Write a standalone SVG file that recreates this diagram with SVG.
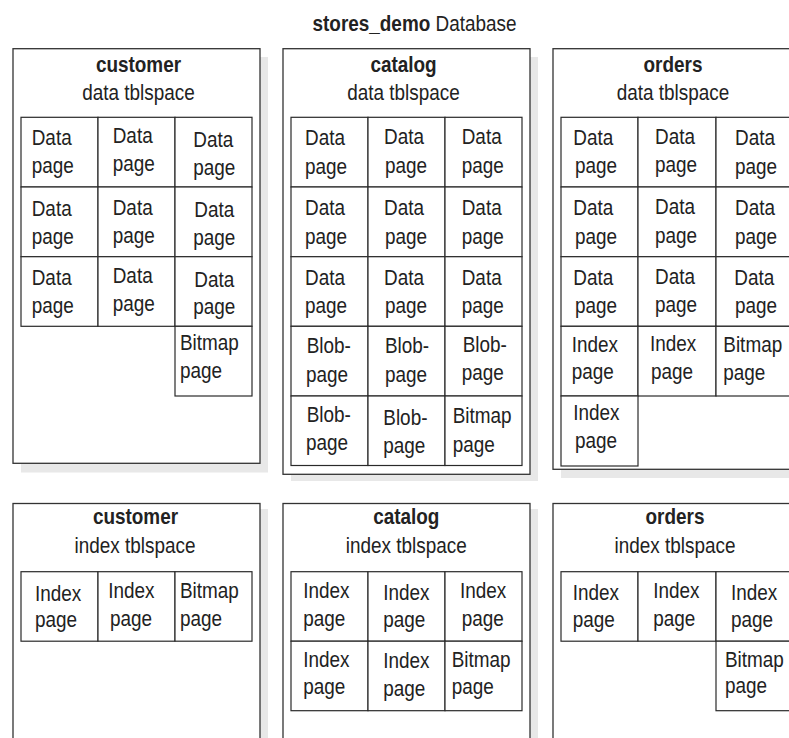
<svg xmlns="http://www.w3.org/2000/svg" width="789" height="738" viewBox="0 0 789 738">
<style>
.bg{fill:#ffffff}
.shadow{fill:#e8e8e8}
.box{fill:#ffffff;stroke:#333333;stroke-width:1.3}
.cell{fill:#ffffff;stroke:#2a2a2a;stroke-width:1.2}
text{font-family:"Liberation Sans",Arial,Helvetica,sans-serif;font-size:21.5px;fill:#222222}
.b{font-weight:bold}
.c{text-anchor:middle}
</style>
<rect class="bg" x="0" y="0" width="789" height="738"/>
<text id="title" transform="translate(312.5,31) scale(0.88,1)"><tspan class="b">stores_demo</tspan> Database</text>

<g id="customer-data">
<rect class="shadow" x="21" y="57" width="247" height="415.5"/>
<rect class="box" x="13" y="48.7" width="247" height="414.6"/>
<text class="b c" transform="translate(138.5,71.7) scale(0.88,1)">customer</text>
<text class="c" transform="translate(138.5,100) scale(0.88,1)">data tblspace</text>
<g id="customer-data-pages">
<rect class="cell" x="21" y="117.3" width="77" height="69.7"/>
<rect class="cell" x="98" y="117.3" width="77" height="69.7"/>
<rect class="cell" x="175" y="117.3" width="77" height="69.7"/>
<rect class="cell" x="21" y="187" width="77" height="69.7"/>
<rect class="cell" x="98" y="187" width="77" height="69.7"/>
<rect class="cell" x="175" y="187" width="77" height="69.7"/>
<rect class="cell" x="21" y="256.7" width="77" height="69.6"/>
<rect class="cell" x="98" y="256.7" width="77" height="69.6"/>
<rect class="cell" x="175" y="256.7" width="77" height="69.6"/>
<rect class="cell" x="175" y="326.3" width="77" height="69.7"/>
<text transform="translate(31.7,145) scale(0.88,1)">Data</text><text transform="translate(31.7,173) scale(0.88,1)">page</text>
<text transform="translate(112.7,143.3) scale(0.88,1)">Data</text><text transform="translate(112.7,171.3) scale(0.88,1)">page</text>
<text transform="translate(193.3,146.7) scale(0.88,1)">Data</text><text transform="translate(193.3,174.5) scale(0.88,1)">page</text>
<text transform="translate(31.7,216) scale(0.88,1)">Data</text><text transform="translate(31.7,244) scale(0.88,1)">page</text>
<text transform="translate(112.7,214.5) scale(0.88,1)">Data</text><text transform="translate(112.7,242.5) scale(0.88,1)">page</text>
<text transform="translate(194.3,216.7) scale(0.88,1)">Data</text><text transform="translate(193.3,244.7) scale(0.88,1)">page</text>
<text transform="translate(31.7,285) scale(0.88,1)">Data</text><text transform="translate(31.7,313) scale(0.88,1)">page</text>
<text transform="translate(112.7,283) scale(0.88,1)">Data</text><text transform="translate(112.7,311) scale(0.88,1)">page</text>
<text transform="translate(194.3,286.7) scale(0.88,1)">Data</text><text transform="translate(193.3,314) scale(0.88,1)">page</text>
<text transform="translate(180,350) scale(0.88,1)">Bitmap</text><text transform="translate(180,378.3) scale(0.88,1)">page</text>
</g>
</g>

<g id="catalog-data">
<rect class="shadow" x="291" y="57" width="247" height="424"/>
<rect class="box" x="283" y="48.7" width="247" height="425.6"/>
<text class="b c" transform="translate(403.5,71.7) scale(0.88,1)">catalog</text>
<text class="c" transform="translate(403.5,100) scale(0.88,1)">data tblspace</text>
<g id="catalog-data-pages">
<rect class="cell" x="291" y="117.3" width="77" height="69.7"/>
<rect class="cell" x="368" y="117.3" width="77" height="69.7"/>
<rect class="cell" x="445" y="117.3" width="77" height="69.7"/>
<rect class="cell" x="291" y="187" width="77" height="69.7"/>
<rect class="cell" x="368" y="187" width="77" height="69.7"/>
<rect class="cell" x="445" y="187" width="77" height="69.7"/>
<rect class="cell" x="291" y="256.7" width="77" height="69.6"/>
<rect class="cell" x="368" y="256.7" width="77" height="69.6"/>
<rect class="cell" x="445" y="256.7" width="77" height="69.6"/>
<rect class="cell" x="291" y="326.3" width="77" height="69.7"/>
<rect class="cell" x="368" y="326.3" width="77" height="69.7"/>
<rect class="cell" x="445" y="326.3" width="77" height="69.7"/>
<rect class="cell" x="291" y="396" width="77" height="69.5"/>
<rect class="cell" x="368" y="396" width="77" height="69.5"/>
<rect class="cell" x="445" y="396" width="77" height="69.5"/>
<text transform="translate(305,145) scale(0.88,1)">Data</text><text transform="translate(305,173.5) scale(0.88,1)">page</text>
<text transform="translate(384,144.3) scale(0.88,1)">Data</text><text transform="translate(385,173) scale(0.88,1)">page</text>
<text transform="translate(461.7,144.3) scale(0.88,1)">Data</text><text transform="translate(461.7,173) scale(0.88,1)">page</text>
<text transform="translate(305,215) scale(0.88,1)">Data</text><text transform="translate(305,243.5) scale(0.88,1)">page</text>
<text transform="translate(384,215) scale(0.88,1)">Data</text><text transform="translate(385,243.5) scale(0.88,1)">page</text>
<text transform="translate(461.7,215) scale(0.88,1)">Data</text><text transform="translate(461.7,243.5) scale(0.88,1)">page</text>
<text transform="translate(305,285) scale(0.88,1)">Data</text><text transform="translate(305,313) scale(0.88,1)">page</text>
<text transform="translate(384,285) scale(0.88,1)">Data</text><text transform="translate(385,313) scale(0.88,1)">page</text>
<text transform="translate(461.7,285) scale(0.88,1)">Data</text><text transform="translate(461.7,313) scale(0.88,1)">page</text>
<text transform="translate(306.7,353.3) scale(0.88,1)">Blob-</text><text transform="translate(306,381.7) scale(0.88,1)">page</text>
<text transform="translate(385,353.3) scale(0.88,1)">Blob-</text><text transform="translate(385,381.7) scale(0.88,1)">page</text>
<text transform="translate(462.7,351.7) scale(0.88,1)">Blob-</text><text transform="translate(461.7,380) scale(0.88,1)">page</text>
<text transform="translate(306.7,421.7) scale(0.88,1)">Blob-</text><text transform="translate(306,450) scale(0.88,1)">page</text>
<text transform="translate(383.3,425) scale(0.88,1)">Blob-</text><text transform="translate(383.3,452.7) scale(0.88,1)">page</text>
<text transform="translate(452.7,422.7) scale(0.88,1)">Bitmap</text><text transform="translate(452.7,451.7) scale(0.88,1)">page</text>
</g>
</g>

<g id="orders-data">
<rect class="shadow" x="561" y="57" width="240" height="421"/>
<rect class="box" x="553" y="48.7" width="240" height="420.6"/>
<text class="b c" transform="translate(673,71.7) scale(0.88,1)">orders</text>
<text class="c" transform="translate(673,100) scale(0.88,1)">data tblspace</text>
<g id="orders-data-pages">
<rect class="cell" x="561" y="117.3" width="77" height="69.7"/>
<rect class="cell" x="638" y="117.3" width="78" height="69.7"/>
<rect class="cell" x="716" y="117.3" width="77" height="69.7"/>
<rect class="cell" x="561" y="187" width="77" height="69.7"/>
<rect class="cell" x="638" y="187" width="78" height="69.7"/>
<rect class="cell" x="716" y="187" width="77" height="69.7"/>
<rect class="cell" x="561" y="256.7" width="77" height="69.6"/>
<rect class="cell" x="638" y="256.7" width="78" height="69.6"/>
<rect class="cell" x="716" y="256.7" width="77" height="69.6"/>
<rect class="cell" x="561" y="326.3" width="77" height="69.7"/>
<rect class="cell" x="638" y="326.3" width="78" height="69.7"/>
<rect class="cell" x="716" y="326.3" width="77" height="69.7"/>
<rect class="cell" x="561" y="396" width="77" height="70"/>
<text transform="translate(573.3,145) scale(0.88,1)">Data</text><text transform="translate(575,173) scale(0.88,1)">page</text>
<text transform="translate(655,143.5) scale(0.88,1)">Data</text><text transform="translate(655,172) scale(0.88,1)">page</text>
<text transform="translate(735,145) scale(0.88,1)">Data</text><text transform="translate(735,173.5) scale(0.88,1)">page</text>
<text transform="translate(573.3,215) scale(0.88,1)">Data</text><text transform="translate(575,243.5) scale(0.88,1)">page</text>
<text transform="translate(655,214) scale(0.88,1)">Data</text><text transform="translate(655,242.5) scale(0.88,1)">page</text>
<text transform="translate(735,215) scale(0.88,1)">Data</text><text transform="translate(735,243.5) scale(0.88,1)">page</text>
<text transform="translate(573.3,285) scale(0.88,1)">Data</text><text transform="translate(575,313) scale(0.88,1)">page</text>
<text transform="translate(655,284) scale(0.88,1)">Data</text><text transform="translate(655,312) scale(0.88,1)">page</text>
<text transform="translate(734.3,285) scale(0.88,1)">Data</text><text transform="translate(735,313) scale(0.88,1)">page</text>
<text transform="translate(571.7,351.7) scale(0.88,1)">Index</text><text transform="translate(571.7,379) scale(0.88,1)">page</text>
<text transform="translate(650,350.7) scale(0.88,1)">Index</text><text transform="translate(651,378.7) scale(0.88,1)">page</text>
<text transform="translate(723.3,351.7) scale(0.88,1)">Bitmap</text><text transform="translate(723.3,379.5) scale(0.88,1)">page</text>
<text transform="translate(573.3,420) scale(0.88,1)">Index</text><text transform="translate(575,448.3) scale(0.88,1)">page</text>
</g>
</g>

<g id="customer-index">
<rect class="shadow" x="21" y="509" width="247" height="240"/>
<rect class="box" x="13" y="503.5" width="247" height="245"/>
<text class="b c" transform="translate(135.5,524) scale(0.88,1)">customer</text>
<text class="c" transform="translate(135,553) scale(0.88,1)">index tblspace</text>
<g id="customer-index-pages">
<rect class="cell" x="21" y="571.7" width="77" height="69.5"/>
<rect class="cell" x="98" y="571.7" width="77" height="69.5"/>
<rect class="cell" x="175" y="571.7" width="77" height="69.5"/>
<text transform="translate(35,600.7) scale(0.88,1)">Index</text><text transform="translate(35,627) scale(0.88,1)">page</text>
<text transform="translate(108.3,598.3) scale(0.88,1)">Index</text><text transform="translate(110,625.5) scale(0.88,1)">page</text>
<text transform="translate(180,598.3) scale(0.88,1)">Bitmap</text><text transform="translate(180,625.5) scale(0.88,1)">page</text>
</g>
</g>

<g id="catalog-index">
<rect class="shadow" x="291" y="509" width="247" height="240"/>
<rect class="box" x="283" y="503.5" width="247" height="245"/>
<text class="b c" transform="translate(406.3,524) scale(0.88,1)">catalog</text>
<text class="c" transform="translate(406.3,553) scale(0.88,1)">index tblspace</text>
<g id="catalog-index-pages">
<rect class="cell" x="291" y="571.7" width="77" height="69.5"/>
<rect class="cell" x="368" y="571.7" width="77" height="69.5"/>
<rect class="cell" x="445" y="571.7" width="77" height="69.5"/>
<rect class="cell" x="291" y="641.2" width="77" height="69.5"/>
<rect class="cell" x="368" y="641.2" width="77" height="69.5"/>
<rect class="cell" x="445" y="641.2" width="77" height="69.5"/>
<text transform="translate(303.3,598.3) scale(0.88,1)">Index</text><text transform="translate(303.3,625.5) scale(0.88,1)">page</text>
<text transform="translate(383.3,600) scale(0.88,1)">Index</text><text transform="translate(383.3,627.3) scale(0.88,1)">page</text>
<text transform="translate(460,598.3) scale(0.88,1)">Index</text><text transform="translate(461.7,625.5) scale(0.88,1)">page</text>
<text transform="translate(303.3,666.7) scale(0.88,1)">Index</text><text transform="translate(303.3,694) scale(0.88,1)">page</text>
<text transform="translate(383.3,668.3) scale(0.88,1)">Index</text><text transform="translate(383.3,696) scale(0.88,1)">page</text>
<text transform="translate(451.7,666.7) scale(0.88,1)">Bitmap</text><text transform="translate(451.7,694) scale(0.88,1)">page</text>
</g>
</g>

<g id="orders-index">
<rect class="shadow" x="561" y="509" width="240" height="240"/>
<rect class="box" x="553" y="503.5" width="240" height="245"/>
<text class="b c" transform="translate(675,524) scale(0.88,1)">orders</text>
<text class="c" transform="translate(675,553) scale(0.88,1)">index tblspace</text>
<g id="orders-index-pages">
<rect class="cell" x="561" y="571.7" width="77" height="69.5"/>
<rect class="cell" x="638" y="571.7" width="78" height="69.5"/>
<rect class="cell" x="716" y="571.7" width="77" height="69.5"/>
<rect class="cell" x="716" y="641.2" width="77" height="69.5"/>
<text transform="translate(572.7,600) scale(0.88,1)">Index</text><text transform="translate(572.7,626.5) scale(0.88,1)">page</text>
<text transform="translate(653.3,598.3) scale(0.88,1)">Index</text><text transform="translate(653.3,625.5) scale(0.88,1)">page</text>
<text transform="translate(731,600) scale(0.88,1)">Index</text><text transform="translate(731,627.3) scale(0.88,1)">page</text>
<text transform="translate(725,666.7) scale(0.88,1)">Bitmap</text><text transform="translate(725,692.7) scale(0.88,1)">page</text>
</g>
</g>
</svg>
